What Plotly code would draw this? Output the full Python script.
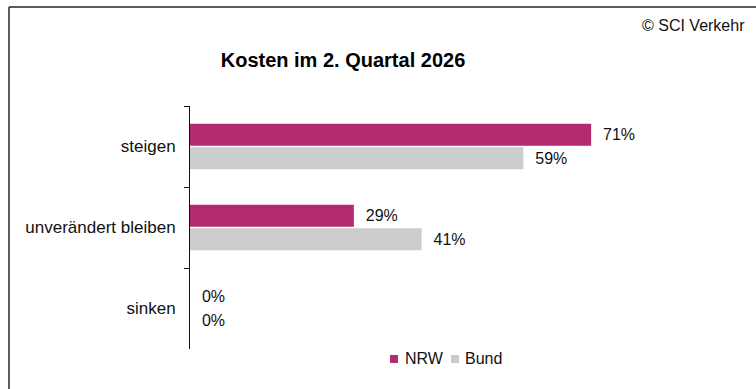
import plotly.graph_objects as go

categories = ["steigen", "unverändert bleiben", "sinken"]
series_names = ["NRW", "Bund"]
nrw_values = [71, 29, 0]
bund_values = [59, 41, 0]
colors = ["#B22A6F", "#CCCCCC"]
title_text = "Kosten im 2. Quartal 2026"
source_text = "© SCI Verkehr"

FONT = "Arial, Liberation Sans, sans-serif"
W_PX, H_PX = 756, 389
L, T, R, B = 190, 106, 30, 40
PW, PH = W_PX - L - R, H_PX - T - B
PX_PER_UNIT = 5.65


def px2x(px):
    return (px - L) / PW


def py2y(py):
    return (T + PH - py) / PH


fig = go.Figure()
for name, vals, col in zip(series_names, [nrw_values, bund_values], colors):
    fig.add_trace(go.Bar(
        y=categories, x=vals, name=name, orientation="h",
        marker=dict(color=col, line=dict(width=0)),
        text=vals, texttemplate="\u00a0\u00a0%{x}%", textposition="outside",
        textfont=dict(family=FONT, size=16, color="#111111"),
        cliponaxis=False, showlegend=False,
    ))

shapes = [
    dict(type="line", xref="paper", yref="paper", x0=px2x(9), x1=px2x(770),
         y0=py2y(7), y1=py2y(7), line=dict(color="#262626", width=1.5)),
    dict(type="line", xref="paper", yref="paper", x0=px2x(9), x1=px2x(9),
         y0=py2y(7), y1=py2y(400), line=dict(color="#262626", width=1.5)),
]

annotations = [
    dict(text=source_text, xref="paper", yref="paper", x=px2x(747), y=py2y(26),
         xanchor="right", yanchor="middle", showarrow=False,
         font=dict(family=FONT, size=16, color="#111111")),
]

# legend (manual)
leg_items = [(390, 403), (451, 463)]
for (sq_x, tx_x), name, col in zip(leg_items, series_names, colors):
    shapes.append(dict(type="rect", xref="paper", yref="paper",
                       x0=px2x(sq_x), x1=px2x(sq_x + 8), y0=py2y(363), y1=py2y(355),
                       fillcolor=col, line=dict(width=0)))
    annotations.append(dict(text=name, xref="paper", yref="paper", x=px2x(tx_x), y=py2y(358.5),
                            xanchor="left", yanchor="middle", showarrow=False,
                            font=dict(family=FONT, size=16, color="#111111")))

fig.update_layout(
    width=W_PX, height=H_PX,
    margin=dict(l=L, r=R, t=T, b=B, pad=0),
    paper_bgcolor="white", plot_bgcolor="white",
    barmode="group", bargap=0.42, bargroupgap=0.06,
    title=dict(text="<b>" + title_text + "</b>", x=343 / W_PX, xref="container", xanchor="center",
               y=1 - 60 / H_PX, yref="container", yanchor="middle",
               font=dict(family=FONT, size=20, color="#000000")),
    font=dict(family=FONT, size=16, color="#111111"),
    xaxis=dict(range=[0, PW / PX_PER_UNIT], visible=False, fixedrange=True),
    yaxis=dict(range=[2.5, -0.5], showline=True, linecolor="#111111", linewidth=1,
               ticks="outside", ticklen=5, tickcolor="#111111", tickwidth=1,
               tickson="boundaries", showgrid=False, zeroline=False,
               ticklabelstandoff=10, tickfont=dict(family=FONT, size=17, color="#111111")),
    shapes=shapes, annotations=annotations, showlegend=False,
)

fig.write_html("out.html")
